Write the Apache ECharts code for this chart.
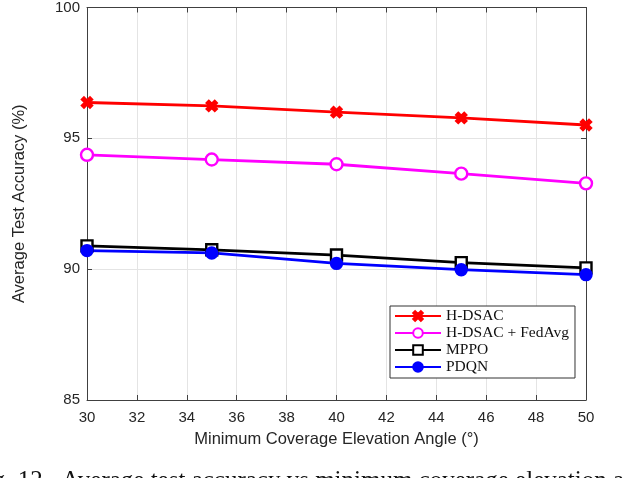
<!DOCTYPE html>
<html><head><meta charset="utf-8">
<script src="https://cdn.jsdelivr.net/npm/echarts@6/dist/echarts.min.js"></script>
<style>html,body{margin:0;padding:0;background:#fff}#c{width:624px;height:478px}</style>
</head><body><div id="c"></div>
<script>
const angles = [30, 35, 40, 45, 50];
const hdsac = [96.37, 96.24, 96.0, 95.78, 95.51];
const hdsacFedAvg = [94.37, 94.19, 94.01, 93.65, 93.28];
const mppo = [90.89, 90.74, 90.54, 90.25, 90.05];
const pdqn = [90.71, 90.62, 90.22, 89.98, 89.79];
const seriesNames = ['H-DSAC', 'H-DSAC + FedAvg', 'MPPO', 'PDQN'];
const captionText = 'Fig. 12.  Average test accuracy vs minimum coverage elevation angle';

const crossPath = 'path://M2,0 L5,3 L8,0 L10,2 L7,5 L10,8 L8,10 L5,7 L2,10 L0,8 L3,5 L0,2 Z';
const axColor = '#404040';
const chart = echarts.init(document.getElementById('c'));
function pts(arr){ return angles.map((a,i)=>[a, arr[i]]); }
const mk = (name, data, color, symbol, size, fill) => ({
  name, type:'line', data: pts(data), symbol, symbolSize: size, showSymbol:true,
  lineStyle:{color, width:2.8}, itemStyle:{color: fill ? color : '#fff', borderColor: color, borderWidth: 2.4},
  emphasis:{disabled:true}, z: 3
});
chart.setOption({
  animation:false,
  grid:{left:87, right:38, top:7, bottom:78, containLabel:false},
  xAxis:[{
    type:'value', min:30, max:50, interval:2, position:'bottom',
    axisLine:{show:true, onZero:false, lineStyle:{color:axColor, width:1}},
    axisTick:{show:true, inside:true, length:5, lineStyle:{color:axColor}},
    axisLabel:{color:'#262626', fontSize:15, fontFamily:'Liberation Sans', margin:10},
    splitLine:{show:true, lineStyle:{color:'#e4e4e4', width:1}},
    name:'Minimum Coverage Elevation Angle (°)', nameLocation:'middle', nameGap:31,
    nameTextStyle:{color:'#262626', fontSize:16.5, fontFamily:'Liberation Sans'}
  },{
    type:'value', min:30, max:50, interval:2, position:'top',
    axisLine:{show:true, onZero:false, lineStyle:{color:axColor, width:1}},
    axisTick:{show:true, inside:true, length:5, lineStyle:{color:axColor}},
    axisLabel:{show:false}, splitLine:{show:false}
  }],
  yAxis:[{
    type:'value', min:85, max:100, interval:5, position:'left',
    axisLine:{show:true, onZero:false, lineStyle:{color:axColor, width:1}},
    axisTick:{show:true, inside:true, length:5, lineStyle:{color:axColor}},
    axisLabel:{color:'#262626', fontSize:15, fontFamily:'Liberation Sans', margin:7},
    splitLine:{show:true, lineStyle:{color:'#e4e4e4', width:1}},
    name:'Average Test Accuracy (%)', nameLocation:'middle', nameGap:59,
    nameTextStyle:{color:'#262626', fontSize:16.5, fontFamily:'Liberation Sans'}
  },{
    type:'value', min:85, max:100, interval:5, position:'right',
    axisLine:{show:true, onZero:false, lineStyle:{color:axColor, width:1}},
    axisTick:{show:true, inside:true, length:5, lineStyle:{color:axColor}},
    axisLabel:{show:false}, splitLine:{show:false}
  }],
  legend:{
    orient:'vertical', left:390, top:306,
    backgroundColor:'#fff', borderColor:'#333', borderWidth:1,
    padding:[2,6,3,4], itemGap:1, itemWidth:46, itemHeight:12,
    textStyle:{fontFamily:'Liberation Serif', fontSize:15.5, color:'#111', lineHeight:14.5},
    data: seriesNames, selectedMode:false
  },
  graphic:[{
    type:'text', left:-28, top:469,
    style:{text:captionText, fontFamily:'Liberation Serif', fontSize:25, fill:'#111'}
  }],
  series:[
    mk(seriesNames[0], hdsac, '#ff0000', crossPath, 10, true),
    mk(seriesNames[1], hdsacFedAvg, '#ff00ff', 'circle', 12, false),
    mk(seriesNames[2], mppo, '#000000', 'rect', 11, false),
    mk(seriesNames[3], pdqn, '#0000ff', 'circle', 11, true)
  ]
});
</script></body></html>
